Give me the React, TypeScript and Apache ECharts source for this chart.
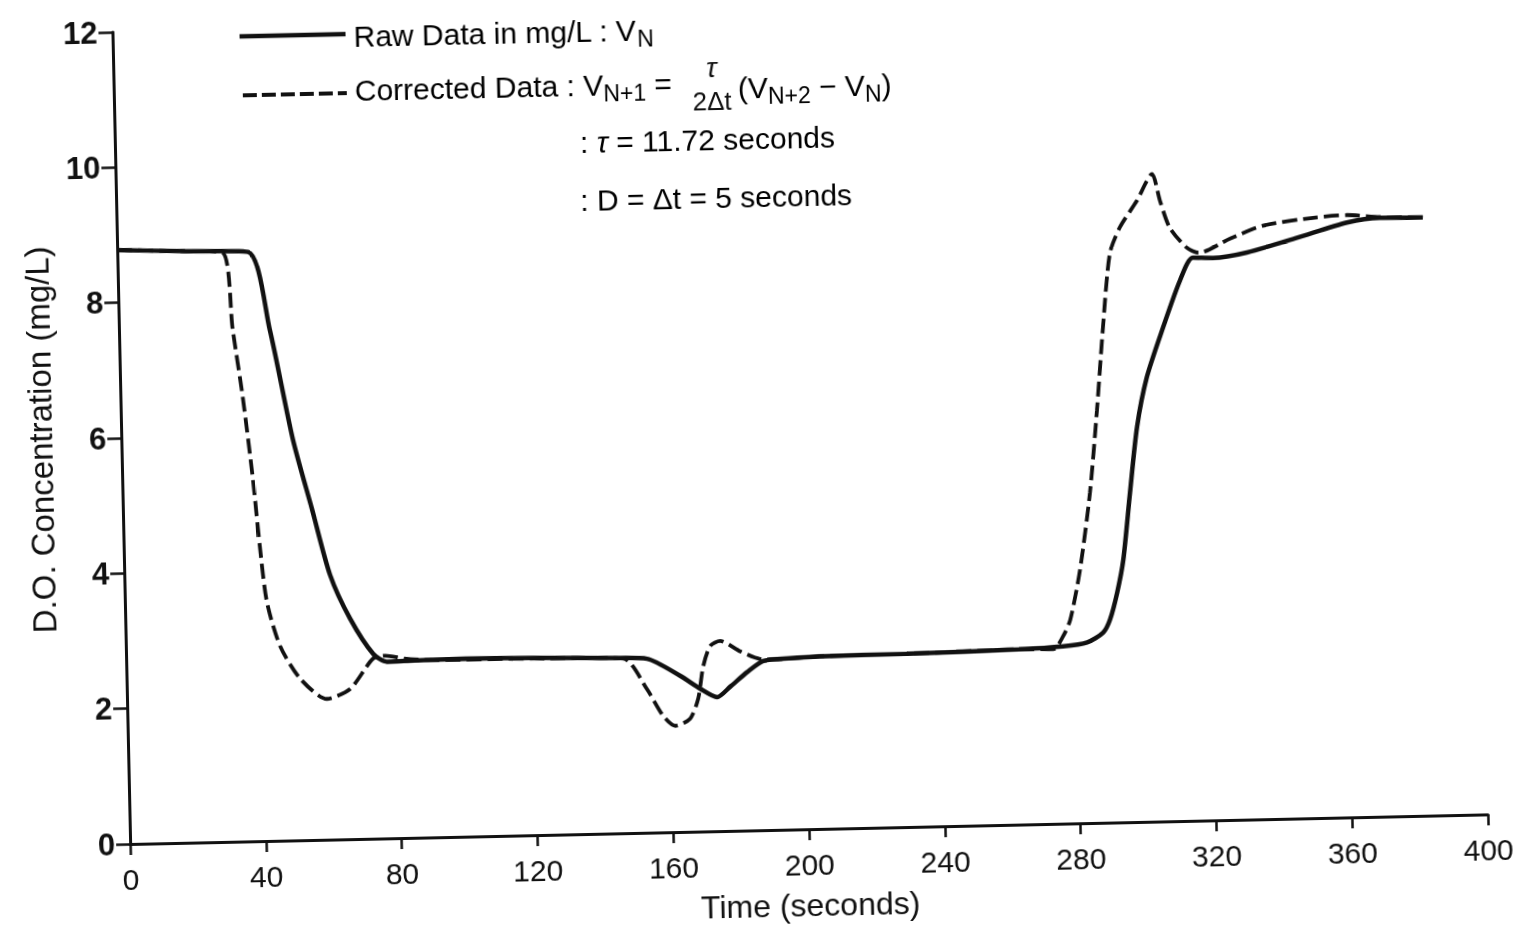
import React, { useEffect, useRef } from "react";
import * as echarts from "echarts";

// Raw data (solid line): time in seconds, D.O. in mg/L
const rawTime = [0, 20, 38.5, 44.4, 50.5, 55.7, 60.6, 66.2, 72.8, 76.8, 85, 100, 120, 145.5, 153.4, 163.0, 168.9, 173.8, 177.7, 182.8, 187.6, 195, 204.4, 230, 263, 276, 283.1, 287.9, 290.0, 292.3, 294.3, 296.7, 299.2, 302.4, 307.5, 312.8, 316.7, 322.6, 332.7, 347.5, 362.3, 372.0, 384.7];
const rawValue = [8.78, 8.74, 8.71, 7.56, 5.93, 4.89, 3.91, 3.26, 2.73, 2.61, 2.62, 2.63, 2.62, 2.59, 2.57, 2.31, 2.11, 1.98, 2.13, 2.34, 2.5, 2.53, 2.55, 2.56, 2.59, 2.62, 2.67, 2.81, 3.0, 3.4, 3.88, 4.87, 5.84, 6.57, 7.3, 7.99, 8.32, 8.31, 8.38, 8.58, 8.79, 8.85, 8.84];

// Corrected data (dashed line)
const corrTime = [0, 20, 31, 33.5, 36.0, 38.5, 40.1, 41.8, 45.4, 51.1, 58.9, 65.8, 72.7, 76.4, 82, 90, 120, 146.4, 153.2, 157.8, 161.3, 165.7, 168.2, 169.9, 172.1, 175.0, 180.9, 186.7, 192, 204, 230, 263, 273.1, 276.1, 278.3, 281.5, 284.9, 287.5, 289.8, 292.3, 295.4, 300.6, 305.2, 307.4, 310.1, 315.0, 318.5, 327.8, 337.5, 352.3, 362.4, 372, 384.7];
const corrValue = [8.78, 8.74, 8.71, 7.57, 6.58, 5.35, 4.36, 3.54, 2.88, 2.39, 2.08, 2.22, 2.66, 2.7, 2.65, 2.62, 2.61, 2.58, 2.12, 1.72, 1.57, 1.67, 1.96, 2.44, 2.74, 2.81, 2.65, 2.53, 2.52, 2.55, 2.56, 2.59, 2.58, 2.77, 3.01, 3.75, 4.88, 6.1, 7.32, 8.41, 8.79, 9.18, 9.57, 9.17, 8.77, 8.47, 8.39, 8.59, 8.77, 8.87, 8.9, 8.86, 8.84];

const xMin = 0;
const xMax = 400;
const xStep = 40;
const yMin = 0;
const yMax = 12;
const yStep = 2;

const xName = "Time (seconds)";
const yName = "D.O. Concentration (mg/L)";

const FONT = "'Liberation Sans', Arial, Helvetica, sans-serif";
const INK = "#111";

export default function App() {
  const ref = useRef<HTMLDivElement>(null);

  useEffect(() => {
    if (!ref.current) return;
    const chart = echarts.init(ref.current, null, { renderer: "svg" });

    const rawData = rawTime.map((t, i) => [t, rawValue[i]]);
    const corrData = corrTime.map((t, i) => [t, corrValue[i]]);

    const mainRich = {
      a: { fontFamily: FONT, fontSize: 30, color: INK, lineHeight: 40 },
      b: { fontFamily: FONT, fontSize: 23, color: INK, lineHeight: 24, verticalAlign: "bottom" },
      i: { fontFamily: FONT, fontSize: 30, color: INK, lineHeight: 40, fontStyle: "italic" },
    };

    chart.setOption({
      animation: false,
      backgroundColor: "#ffffff",
      grid: { left: 122, right: 55, top: 18, bottom: 96, containLabel: false },
      xAxis: {
        type: "value",
        min: xMin,
        max: xMax,
        interval: xStep,
        name: xName,
        nameLocation: "middle",
        nameGap: 60,
        nameTextStyle: { fontFamily: FONT, fontSize: 32, color: INK },
        axisLine: { show: true, lineStyle: { color: INK, width: 3 } },
        axisTick: { show: true, inside: false, length: 11, lineStyle: { color: INK, width: 2.5 } },
        axisLabel: { fontFamily: FONT, fontSize: 30, color: INK, margin: 20 },
        splitLine: { show: false },
      },
      yAxis: {
        type: "value",
        min: yMin,
        max: yMax,
        interval: yStep,
        name: yName,
        nameLocation: "middle",
        nameGap: 64,
        nameTextStyle: { fontFamily: FONT, fontSize: 33, color: INK },
        axisLine: { show: true, lineStyle: { color: INK, width: 3 } },
        axisTick: { show: true, inside: false, length: 14, lineStyle: { color: INK, width: 2.5 } },
        axisLabel: { fontFamily: FONT, fontSize: 31, fontWeight: "bold", color: INK, margin: 15 },
        splitLine: { show: false },
      },
      series: [
        {
          name: "Corrected Data",
          type: "line",
          data: corrData,
          showSymbol: false,
          symbol: "none",
          smooth: 0.25,
          lineStyle: { color: INK, width: 3.8, type: [15, 6] },
          z: 2,
        },
        {
          name: "Raw Data",
          type: "line",
          data: rawData,
          showSymbol: false,
          symbol: "none",
          smooth: 0.25,
          lineStyle: { color: INK, width: 4.5, type: "solid" },
          z: 3,
        },
      ],
      graphic: [
        {
          type: "line",
          shape: { x1: 249, y1: 25, x2: 355, y2: 25 },
          style: { stroke: INK, lineWidth: 4.5 },
        },
        {
          type: "text",
          x: 363,
          y: 27,
          style: {
            text: "{a|Raw Data in mg/L : V}{b|N}",
            rich: mainRich,
            verticalAlign: "middle",
            align: "left",
          },
        },
        {
          type: "line",
          shape: { x1: 251, y1: 84, x2: 355, y2: 84 },
          style: { stroke: INK, lineWidth: 3.8, lineDash: [14, 5] },
        },
        {
          type: "text",
          x: 363,
          y: 81,
          style: {
            text: "{a|Corrected Data : V}{b|N+1}{a| =}",
            rich: mainRich,
            verticalAlign: "middle",
            align: "left",
          },
        },
        {
          type: "text",
          x: 720,
          y: 66,
          style: {
            text: "τ",
            fontFamily: FONT,
            fontSize: 28,
            fontStyle: "italic",
            fill: INK,
            align: "center",
            verticalAlign: "middle",
          },
        },
        {
          type: "text",
          x: 720,
          y: 100,
          style: {
            text: "2Δt",
            fontFamily: FONT,
            fontSize: 26,
            fill: INK,
            align: "center",
            verticalAlign: "middle",
          },
        },
        {
          type: "text",
          x: 746,
          y: 87,
          style: {
            text: "{a|(V}{b|N+2}{a| − V}{b|N}{a|)}",
            rich: mainRich,
            verticalAlign: "middle",
            align: "left",
          },
        },
        {
          type: "text",
          x: 587,
          y: 138,
          style: {
            text: "{a|: }{i|τ}{a| = 11.72 seconds}",
            rich: mainRich,
            verticalAlign: "middle",
            align: "left",
          },
        },
        {
          type: "text",
          x: 586,
          y: 196,
          style: {
            text: "{a|: D = Δt = 5 seconds}",
            rich: mainRich,
            verticalAlign: "middle",
            align: "left",
          },
        },
      ],
    });

    return () => chart.dispose();
  }, []);

  return (
    <div
      style={{
        position: "fixed",
        left: 0,
        top: 0,
        width: 1535,
        height: 927,
        background: "#ffffff",
        transform: "rotate(-1.25deg)",
        transformOrigin: "50% 50%",
      }}
    >
      <div ref={ref} style={{ width: 1535, height: 927 }} />
    </div>
  );
}
